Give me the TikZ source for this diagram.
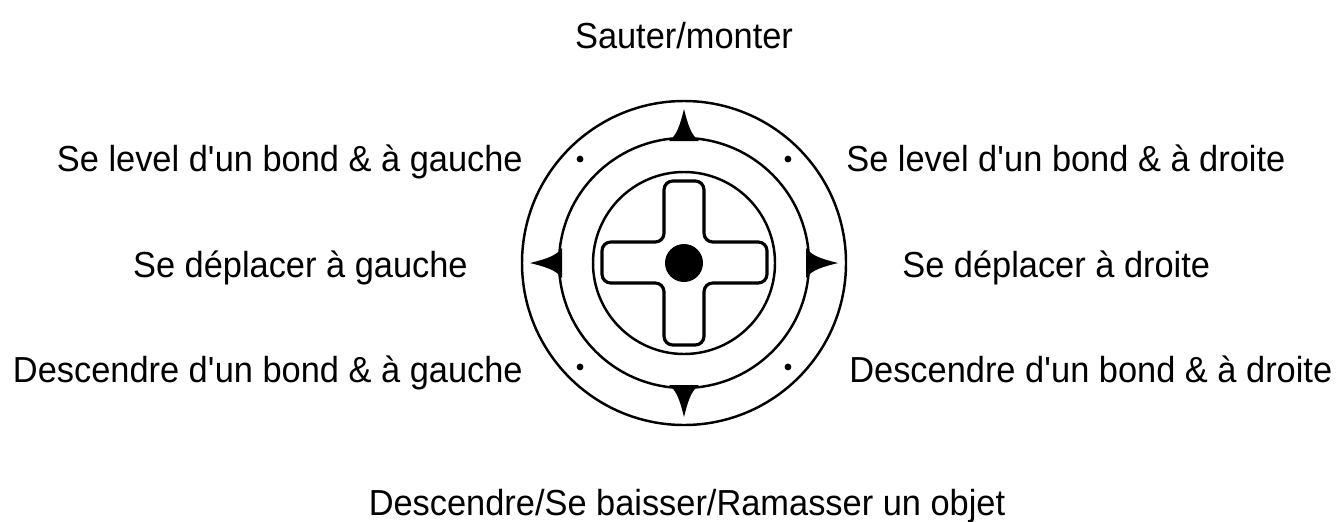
\documentclass[tikz,border=0pt]{standalone}
\usepackage{fontspec}
\setmainfont[FakeStretch=0.95]{Liberation Sans}
\usetikzlibrary{positioning}

\begin{document}
\begin{tikzpicture}[x=0.02cm,y=-0.02cm,
  lbl/.style={font=\fontsize{20.6}{24}\selectfont,inner sep=0pt},
  ring/.style={line width=1.4pt}]
  \useasboundingbox (0,0) rectangle (1341,521);
  \coordinate (C) at (684,263);

  % bagues et croix directionnelle
  \begin{scope}[shift={(C)}]
    \draw[ring] (0,0) circle (162);
    \draw[ring] (0,0) circle (125);
    \draw[ring] (0,0) circle (91);
    \draw[line width=1.8pt,rounded corners=5pt]
      (-20,-82) -- (20,-82) -- (20,-21) -- (83,-21) -- (83,20) -- (20,20)
      -- (20,82) -- (-20,82) -- (-20,20) -- (-82,20) -- (-82,-21)
      -- (-20,-21) -- cycle;
    \fill (0,0) circle (19);
    \foreach \a in {0,90,180,270}
      \fill[rotate=\a] (0,-154) .. controls (4,-138) and (7,-128) .. (15,-122)
        -- (-15,-122) .. controls (-7,-128) and (-4,-138) .. (0,-154);
    \foreach \a in {45,135,225,315}
      \fill (\a:147) circle (3.4);
  \end{scope}

  % libelles
  \node[lbl,anchor=base] (haut) at (684,48) {Sauter/monter};
  \node[lbl,anchor=base east] (hautg) at (523,171) {Se level d\textquotesingle un bond \& à gauche};
  \node[lbl,anchor=base west] (hautd) at (846,171) {Se level d\textquotesingle un bond \& à droite};
  \node[lbl,anchor=base east] (gauche) at (468,277) {Se déplacer à gauche};
  \node[lbl,anchor=base west] (droite) at (902,277) {Se déplacer à droite};
  \node[lbl,anchor=base east] (basg) at (523,382) {Descendre d\textquotesingle un bond \& à gauche};
  \node[lbl,anchor=base west] (basd) at (849,382) {Descendre d\textquotesingle un bond \& à droite};
  \node[lbl,anchor=base] (bas) at (687,515) {Descendre/Se baisser/Ramasser un objet};
\end{tikzpicture}
\end{document}
